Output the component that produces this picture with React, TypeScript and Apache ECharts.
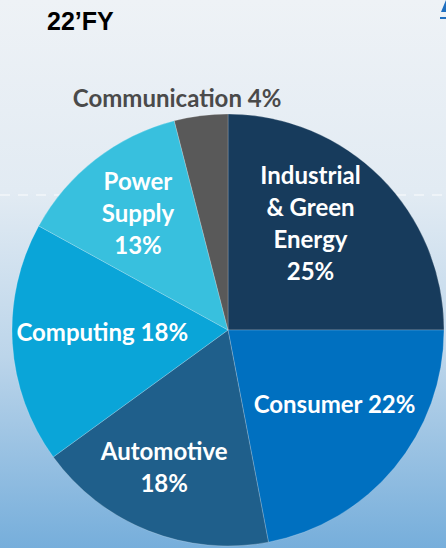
import React, { useEffect, useRef } from "react";
import * as echarts from "echarts";

const categories = [
  "Industrial\n& Green\nEnergy",
  "Consumer",
  "Automotive",
  "Computing",
  "Power\nSupply",
  "Communication",
];
const shares = [25, 22, 18, 18, 13, 4];
const labelSep = ["\n", " ", "\n", " ", "\n", " "];
const colors = ["#173B5C", "#0070C0", "#1F5F8B", "#0AA5D8", "#38C0DE", "#595959"];
const labelOffsets: number[][] = [
  [4, -29],
  [21, 3],
  [-23, 33],
  [-15, -5],
  [-22, -30],
  [-37, -122],
];
const title = "22\u2019FY";

export default function App() {
  const ref = useRef<HTMLDivElement>(null);
  useEffect(() => {
    if (!ref.current) return;
    const chart = echarts.init(ref.current, undefined, { renderer: "svg" });
    const data = categories.map((name, i) => ({
      name,
      value: shares[i],
      itemStyle: { color: colors[i] },
      label: {
        offset: labelOffsets[i],
        color: i === 5 ? "#4A4A4A" : "#FFFFFF",
      },
    }));
    chart.setOption({
      animation: false,
      backgroundColor: new echarts.graphic.LinearGradient(0, 0, 0, 1, [
        { offset: 0, color: "#EEF2F6" },
        { offset: 0.35, color: "#E2EBF3" },
        { offset: 0.65, color: "#BCD5EA" },
        { offset: 1, color: "#76AEDB" },
      ]),
      graphic: [
        {
          type: "text",
          left: 47,
          top: 8,
          style: {
            text: title,
            font: "bold 25px 'Liberation Sans', Arial, sans-serif",
            fill: "#000000",
          },
        },
        {
          type: "line",
          shape: { x1: 0, y1: 195, x2: 446, y2: 195 },
          style: { stroke: "rgba(255,255,255,0.6)", lineWidth: 1.5, lineDash: [10, 8] },
          z: -1,
        },
        {
          type: "polygon",
          shape: { points: [[441, 12], [446, 0], [446, 12]] },
          style: { fill: "#1F6FC0" },
        },
        {
          type: "rect",
          shape: { x: 440, y: 17, width: 6, height: 2 },
          style: { fill: "#1F6FC0" },
        },
      ],
      series: [
        {
          type: "pie",
          center: [228, 330],
          radius: [0, 216],
          startAngle: 90,
          clockwise: true,
          data,
          itemStyle: { borderWidth: 0.6, borderColor: "rgba(255,255,255,0.35)" },
          label: {
            show: true,
            position: "inside",
            formatter: (p: any) => `${p.name}${labelSep[p.dataIndex]}${p.value}%`,
            fontFamily: "Lato, 'Open Sans', sans-serif",
            fontWeight: "bold",
            fontSize: 24,
            lineHeight: 32,
            align: "center",
          },
          labelLine: { show: false },
          emphasis: { disabled: true },
        },
      ],
    });
    return () => chart.dispose();
  }, []);
  return (
    <div
      ref={ref}
      style={{ position: "fixed", left: 0, top: 0, width: 446, height: 548 }}
    />
  );
}
